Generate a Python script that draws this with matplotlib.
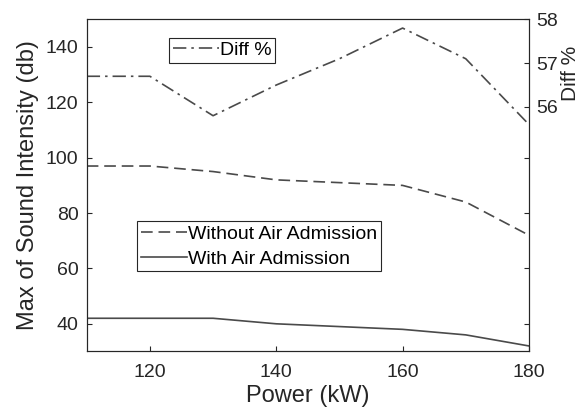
import matplotlib
matplotlib.use('Agg')
import matplotlib.pyplot as plt

plt.rcParams['font.family'] = ['Liberation Sans', 'DejaVu Sans']

power = [110, 120, 130, 140, 150, 160, 170, 180]
without_air = [97, 97, 95, 92, 91, 90, 84, 72]
with_air = [42, 42, 42, 40, 39, 38, 36, 32]
diff_pct = [56.7, 56.7, 55.8, 56.5, 57.1, 57.8, 57.1, 55.6]

line_col = '#4a4a4a'
axis_col = '#262626'
text_col = '#262626'

fig = plt.figure(figsize=(5.86, 4.17), dpi=100)
ax = fig.add_axes([0.148, 0.1571, 0.7546, 0.7966])
ax2 = ax.twinx()

l1, = ax.plot(power, without_air, linestyle=(0, (7, 3.5)), color=line_col, lw=1.2,
              label='Without Air Admission')
l2, = ax.plot(power, with_air, linestyle='-', color=line_col, lw=1.2,
              label='With Air Admission')
l3, = ax2.plot(power, diff_pct, linestyle=(0, (8, 3, 1.5, 3)), color=line_col, lw=1.2,
               label='Diff %')

ax.set_xlim(110, 180)
ax.set_ylim(30, 150)
ax2.set_ylim(50.42, 58)
ax.set_xticks([120, 140, 160, 180])
ax.set_yticks([40, 60, 80, 100, 120, 140])
ax2.set_yticks([56, 57, 58])

# left-axis ticks repeated on the right edge (unlabelled)
y0, y1 = ax.get_ylim()
r0, r1 = ax2.get_ylim()
mirror = [r0 + (v - y0) / (y1 - y0) * (r1 - r0) for v in [40, 60, 80, 100]]
ax2.set_yticks(mirror, minor=True)
ax2.tick_params(axis='y', which='minor', length=3.6, width=0.8, direction='in', color=axis_col)

for a in (ax, ax2):
    for s in a.spines.values():
        s.set_color(axis_col)
        s.set_linewidth(0.8)
ax.tick_params(axis='x', direction='in', length=3.6, width=0.8, labelsize=14,
               colors=axis_col, labelcolor=text_col, pad=9)
ax.tick_params(axis='y', direction='in', length=3.6, width=0.8, labelsize=14,
               colors=axis_col, labelcolor=text_col, pad=6)
ax2.tick_params(axis='y', which='major', direction='in', length=3.6, width=0.8, labelsize=14,
                colors=axis_col, labelcolor=text_col, pad=5)

ax.set_xlabel('Power (kW)', fontsize=17, color=text_col, labelpad=3)
ax.set_ylabel('Max of Sound Intensity (db)', fontsize=17, color=text_col, labelpad=5)
ax2.set_ylabel('Diff %', fontsize=15, color=text_col)
ax2.yaxis.set_label_coords(1.072, 0.838)

leg_kw = dict(fontsize=14, frameon=True, fancybox=False, edgecolor=axis_col,
              handlelength=2.4, handletextpad=0.05, borderpad=0.18, labelspacing=0.38,
              borderaxespad=0, framealpha=1)
leg1 = fig.legend(handles=[l3], loc='upper left', bbox_to_anchor=(169 / 586, 1 - 38 / 417),
                  **leg_kw)
leg1.get_frame().set_linewidth(0.8)
leg2 = fig.legend(handles=[l1, l2], loc='upper left', bbox_to_anchor=(137 / 586, 1 - 221.5 / 417),
                  **leg_kw)
leg2.get_frame().set_linewidth(0.8)

fig.savefig('out.png', dpi=100)
